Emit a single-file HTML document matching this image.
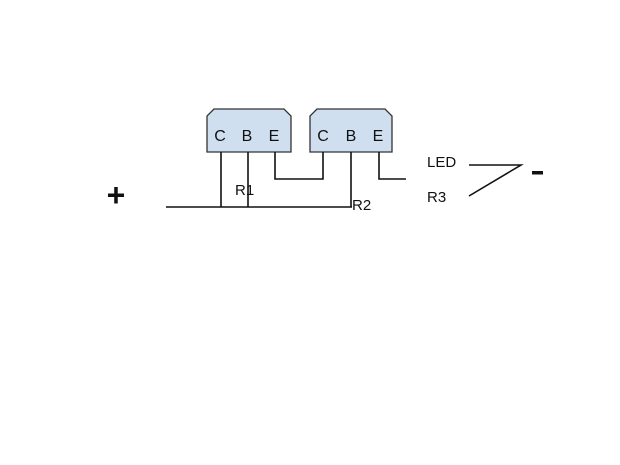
<!DOCTYPE html>
<html><head><style>body{margin:0;background:#fff}</style></head><body>
<svg width="620" height="465" xmlns="http://www.w3.org/2000/svg" style="display:block;font-family:'Liberation Sans',sans-serif">
<rect width="620" height="465" fill="#fff"/>
<g fill="#cfdff0" stroke="#333" stroke-width="1.3">
<path d="M214,109 H284 L291,116 V152 H207 V116 Z"/>
<path d="M317,109 H385 L392,116 V152 H310 V116 Z"/>
</g>
<g font-size="16" fill="#111" text-anchor="middle">
<text x="220" y="141">C</text><text x="247" y="141">B</text><text x="274" y="141">E</text>
<text x="323" y="141">C</text><text x="351" y="141">B</text><text x="378" y="141">E</text>
</g>
<g stroke="#111" stroke-width="1.6" fill="none">
<path d="M221,152 V207"/><path d="M248,152 V207"/>
<path d="M275,152 V179 H323 V152"/>
<path d="M351,152 V207"/>
<path d="M379,152 V179 H406"/>
<path d="M166,207 H352"/>
<path d="M469,165 H521 L469,196"/>
</g>
<g font-size="15" fill="#111">
<text x="235" y="195">R1</text>
<text x="352" y="210">R2</text>
<text x="427" y="167">LED</text>
<text x="427" y="202">R3</text>
</g>
<text x="116" y="206" font-size="32" font-weight="bold" text-anchor="middle" fill="#111">+</text>
<rect x="532" y="171" width="11" height="3.5" fill="#111"/>
</svg>
</body></html>
